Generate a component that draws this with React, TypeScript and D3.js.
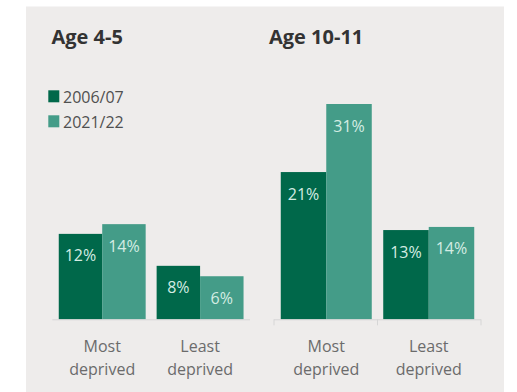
import React from "react";
import * as d3 from "d3";

const series = ["2006/07", "2021/22"];
const categories = ["Most deprived", "Least deprived"];
const panelTitles = ["Age 4-5", "Age 10-11"];
// values per panel, per series, per category (%)
const young2006 = [12.3, 7.7];
const young2021 = [13.7, 6.2];
const old2006 = [21.2, 12.85];
const old2021 = [31, 13.3];
const youngLabels2006 = ["12%", "8%"];
const youngLabels2021 = ["14%", "6%"];
const oldLabels2006 = ["21%", "13%"];
const oldLabels2021 = ["31%", "14%"];

const colors = ["#00684a", "#449c88"];
const W = 517;
const H = 392;
const FONT = "'Open Sans', 'Noto Sans', sans-serif";

const panels = [
  {
    title: panelTitles[0],
    values: [young2006, young2021],
    labels: [youngLabels2006, youngLabels2021],
    range: [52.3, 250] as [number, number],
    ticks: false,
    titleX: 51.5,
  },
  {
    title: panelTitles[1],
    values: [old2006, old2021],
    labels: [oldLabels2006, oldLabels2021],
    range: [274, 481] as [number, number],
    ticks: true,
    titleX: 269,
  },
];

export default function App() {
  const baseY = 319.3;
  const y = d3.scaleLinear().domain([0, 31]).range([baseY, 104]);
  return (
    <svg
      width={W}
      height={H}
      style={{ position: "absolute", left: 0, top: 0 }}
      fontFamily={FONT}
    >
      <rect x={0} y={0} width={W} height={H} fill="#ffffff" />
      <rect x={26} y={6.5} width={478} height={H} fill="#eeeceb" />
      {series.map((s, i) => (
        <g key={s}>
          <rect x={48.3} y={90.3 + i * 25} width={11} height={12} fill={colors[i]} />
          <text x={63} y={102.5 + i * 25} fontSize={16} fill="#505050">
            {s}
          </text>
        </g>
      ))}
      {panels.map((p) => {
        const x0 = d3
          .scaleBand<string>()
          .domain(categories)
          .range(p.range)
          .paddingInner(0.112)
          .paddingOuter(0.066);
        const x1 = d3
          .scaleBand<string>()
          .domain(series)
          .range([0, x0.bandwidth()]);
        return (
          <g key={p.title}>
            <text
              x={p.titleX}
              y={43.5}
              fontSize={20}
              fontWeight={700}
              fill="#333"
            >
              {p.title}
            </text>
            {categories.map((c, ci) => (
              <g key={c} transform={`translate(${x0(c)},0)`}>
                {series.map((s, si) => {
                  const v = p.values[si][ci];
                  const bx = x1(s)!;
                  const top = y(v);
                  return (
                    <g key={s}>
                      <rect
                        x={bx}
                        y={top}
                        width={x1.bandwidth()}
                        height={baseY - top}
                        fill={colors[si]}
                      />
                      <text
                        x={bx + x1.bandwidth() / 2}
                        y={top + 27.5}
                        textAnchor="middle"
                        fontSize={16}
                        fill="#d4ece3"
                      >
                        {p.labels[si][ci]}
                      </text>
                    </g>
                  );
                })}
                <text
                  x={x0.bandwidth() / 2}
                  textAnchor="middle"
                  fontSize={16}
                  fill="#6b6b6b"
                >
                  <tspan x={x0.bandwidth() / 2} y={351.5}>
                    {c.split(" ")[0]}
                  </tspan>
                  <tspan x={x0.bandwidth() / 2} y={375}>
                    {c.split(" ")[1]}
                  </tspan>
                </text>
              </g>
            ))}
            <line
              x1={p.range[0]}
              x2={p.range[1]}
              y1={baseY + 0.5}
              y2={baseY + 0.5}
              stroke="#d6d6d6"
            />
            {p.ticks &&
              [p.range[0], (p.range[0] + p.range[1]) / 2, p.range[1]].map((tx) => (
                <line
                  key={tx}
                  x1={tx}
                  x2={tx}
                  y1={baseY}
                  y2={baseY + 6}
                  stroke="#d6d6d6"
                />
              ))}
          </g>
        );
      })}
    </svg>
  );
}
